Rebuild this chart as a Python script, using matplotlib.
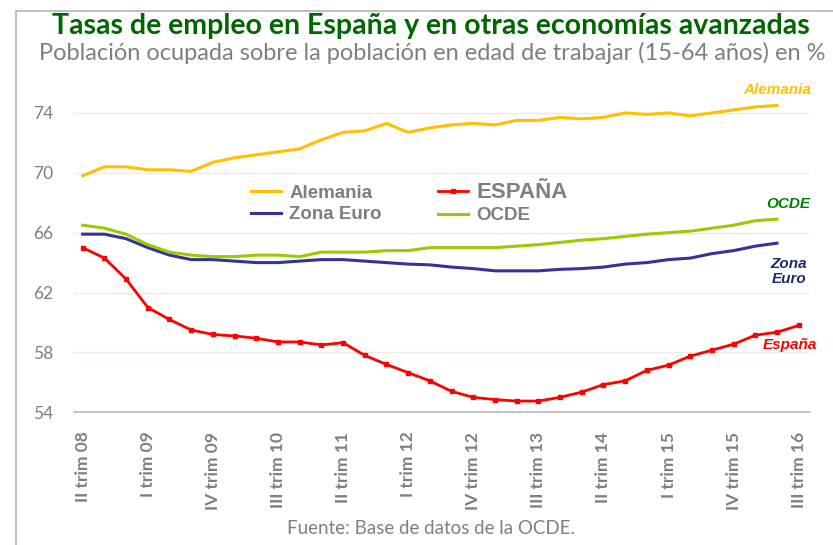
import matplotlib
matplotlib.use("Agg")
import matplotlib.pyplot as plt
from matplotlib.lines import Line2D
from matplotlib.patches import Rectangle

# quarterly data, II trim 08 .. III trim 16
tick_labels = ["II trim 08", "I trim 09", "IV trim 09", "III trim 10", "II trim 11",
               "I trim 12", "IV trim 12", "III trim 13", "II trim 14", "I trim 15",
               "IV trim 15", "III trim 16"]

alemania = [69.8, 70.4, 70.4, 70.2, 70.2, 70.1, 70.7, 71.0, 71.2, 71.4, 71.6,
            72.2, 72.7, 72.8, 73.3, 72.7, 73.0, 73.2, 73.3, 73.2, 73.5, 73.5,
            73.7, 73.6, 73.7, 74.0, 73.9, 74.0, 73.8, 74.0, 74.2, 74.4, 74.5]

zona_euro = [65.9, 65.9, 65.6, 65.0, 64.5, 64.2, 64.2, 64.1, 64.0, 64.0, 64.1,
             64.2, 64.2, 64.1, 64.0, 63.9, 63.85, 63.7, 63.6, 63.45, 63.45, 63.45,
             63.55, 63.6, 63.7, 63.9, 64.0, 64.2, 64.3, 64.6, 64.8, 65.1, 65.3]

ocde = [66.5, 66.3, 65.9, 65.2, 64.7, 64.5, 64.4, 64.4, 64.5, 64.5, 64.4,
        64.7, 64.7, 64.7, 64.8, 64.8, 65.0, 65.0, 65.0, 65.0, 65.1, 65.2,
        65.35, 65.5, 65.6, 65.75, 65.9, 66.0, 66.1, 66.3, 66.5, 66.8, 66.9]

espana = [65.0, 64.3, 62.9, 61.0, 60.2, 59.5, 59.2, 59.1, 58.95, 58.7, 58.7,
          58.5, 58.65, 57.8, 57.2, 56.65, 56.1, 55.4, 55.0, 54.85, 54.75, 54.75,
          55.0, 55.35, 55.85, 56.1, 56.8, 57.15, 57.75, 58.15, 58.55, 59.15,
          59.35, 59.8]

yticks = [54, 58, 62, 66, 70, 74]

c_ale = "#FFC000"
c_eur = "#333399"
c_ocd = "#99CC00"
c_esp = "#FF0000"
gray = "#7f7f7f"

fig = plt.figure(figsize=(8.33, 5.45), dpi=100)
ax = fig.add_axes([74 / 833, 1 - 412.3 / 545, (810 - 74) / 833, (412.3 - 68) / 545])

# outer frame
fig.patches.append(Rectangle((16 / 833, -0.1), 1.2, 1 - 11 / 545 + 0.1, transform=fig.transFigure,
                             fill=False, edgecolor="#b4b4b4", linewidth=1.2))

ax.plot(range(len(alemania)), alemania, color=c_ale, lw=2.2, solid_joinstyle="round")
ax.plot(range(len(zona_euro)), zona_euro, color=c_eur, lw=2.2, solid_joinstyle="round")
ax.plot(range(len(ocde)), ocde, color=c_ocd, lw=2.2, solid_joinstyle="round")
ax.plot(range(len(espana)), espana, color=c_esp, lw=2.0, marker="s", markersize=2.6,
        solid_joinstyle="round")

ax.set_xlim(-0.4, 33.52)
ax.set_ylim(54, 77)
ax.set_yticks(yticks)
ax.set_yticklabels([str(v) for v in yticks], fontfamily="Lato", fontsize=12.5, color=gray)
ax.set_xticks(range(0, len(espana), 3))
ax.set_xticklabels(tick_labels, rotation=90, fontfamily="Lato", fontweight="bold",
                   fontsize=12.5, color=gray)
ax.tick_params(length=0)
ax.tick_params(axis="x", pad=14)
ax.tick_params(axis="y", pad=15)
ax.grid(axis="y", color="#ecebe2", lw=1)
ax.set_axisbelow(True)
for s in ["top", "right", "left"]:
    ax.spines[s].set_visible(False)
ax.spines["bottom"].set_color("#b9b9b9")
ax.spines["bottom"].set_linewidth(1.2)

# end-of-line labels
lab = dict(fontfamily="Liberation Sans", fontweight="bold", fontstyle="italic",
           fontsize=11, ha="center", va="center")
ax.text(32.0, 75.55, "Alemania", color=c_ale, **lab)
ax.text(32.5, 67.9, "OCDE", color="#008000", **lab)
ax.text(32.55, 63.4, "Zona\nEuro", color="#1f2a6e", linespacing=1.1, **lab)
ax.text(32.6, 58.5, "España", color=c_esp, **lab)

handles = [Line2D([], [], color=c_ale, lw=2.2),
           Line2D([], [], color=c_eur, lw=2.2),
           Line2D([], [], color=c_esp, lw=2.0, marker="s", markersize=2.6),
           Line2D([], [], color=c_ocd, lw=2.2)]
leg = ax.legend(handles, ["Alemania", "Zona Euro", "ESPAÑA", "OCDE"], ncol=2,
                loc="center left", bbox_to_anchor=(251 / 833, 1 - 203 / 545),
                bbox_transform=fig.transFigure, frameon=False, borderpad=0,
                borderaxespad=0, handlelength=1.6, handletextpad=0.45,
                columnspacing=3.0, labelspacing=0.25, numpoints=1,
                prop=dict(family="Liberation Sans", weight="bold", size=13.5))
for t in leg.get_texts():
    t.set_color(gray)
leg.get_texts()[2].set_fontsize(16)

fig.text(431 / 833, 1 - 26 / 545, "Tasas de empleo en España y en otras economías avanzadas",
         ha="center", va="center", fontfamily="Lato", fontweight="bold", fontsize=20.5,
         color="#006600")
fig.text(432 / 833, 1 - 53 / 545,
         "Población ocupada sobre la población en edad de trabajar (15-64 años) en %",
         ha="center", va="center", fontfamily="Lato", fontsize=17, color=gray)
fig.text(431 / 833, 1 - 528 / 545, "Fuente: Base de datos de la OCDE.",
         ha="center", va="center", fontfamily="Lato", fontsize=13.5, color=gray)

fig.savefig("out.png", dpi=100)
